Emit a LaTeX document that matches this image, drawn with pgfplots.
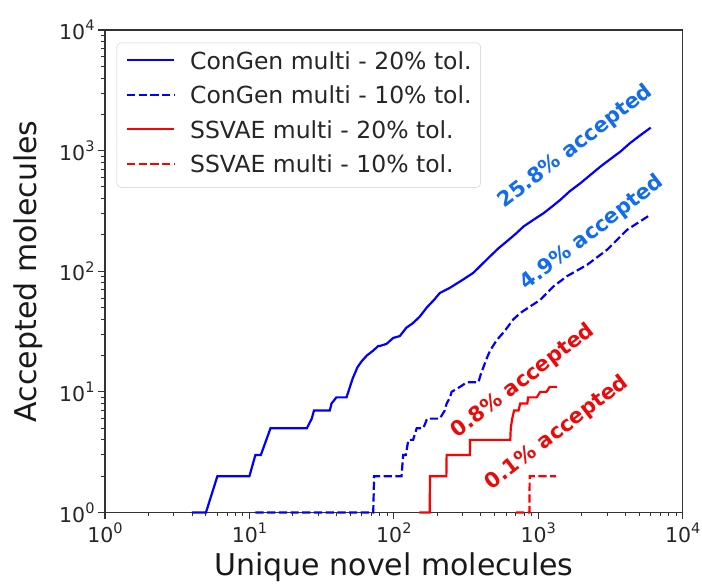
\documentclass[border=0pt]{standalone}
\usepackage{fontspec}
\setmainfont{DejaVu Sans}
\usepackage{pgfplots}
\pgfplotsset{compat=1.18}

\definecolor{annblue}{RGB}{18,108,235}
\definecolor{annred}{RGB}{235,10,10}
\newcommand\tp[1]{10\raisebox{0.42em}{\fontsize{14.5}{14.5}\selectfont#1}}

\begin{document}
\begin{tikzpicture}
\begin{axis}[
  scale only axis, width=577.7pt, height=482.5pt,
  xmode=log, ymode=log,
  xmin=1, xmax=10000, ymin=1, ymax=10000,
  xtick={1,10,100,1000,10000},
  xticklabels={\tp{0},\tp{1},\tp{2},\tp{3},\tp{4}},
  ytick={1,10,100,1000,10000},
  yticklabels={\tp{0},\tp{1},\tp{2},\tp{3},\tp{4}},
  tick pos=left, tick align=outside,
  major tick length=7pt, minor tick length=4pt,
  every tick/.style={black!80, line width=1.1pt},
  minor tick style={line width=0.9pt},
  axis line style={black!80, line width=1.2pt},
  tick label style={font=\fontsize{20.5}{24}\selectfont, text=black!85},
  xlabel={Unique novel molecules},
  ylabel={Accepted molecules},
  label style={font=\fontsize{30}{36}\selectfont, text=black!90},
  xlabel style={at={(axis description cs:0.5,-0.1316)}, anchor=base},
  ylabel style={at={(axis description cs:-0.1177,0.5)}, anchor=base},
  legend cell align=left,
  legend image code/.code={\draw[#1] (0pt,0.3em) -- (47pt,0.3em);},
  legend style={at={(axis description cs:0.0203,0.9737)}, anchor=north west,
    draw=black!20, rounded corners=4pt, fill=white,
    font=\fontsize{23.5}{28}\selectfont, text=black!85,
    inner xsep=9pt, inner ysep=9.5pt,
    nodes={inner sep=0pt, text height=17pt, text depth=5pt},
    row sep=12.5pt, column sep=15pt},
  clip=false,
]
% ConGen multi - 20% tol.
\addplot[blue, line width=2.2pt] coordinates {
 (4,1) (5,1) (6,2) (10,2) (11,3) (12,3) (14,5) (25,5) (27,6) (28,7) (36,7)
 (37,8) (40,9) (47,9) (52,13) (56,16) (60,18) (65,20) (72,22) (78,24) (80,24)
 (89,25) (99,28) (110,29) (122,34) (135,37) (151,42) (169,50) (190,58)
 (208,66) (245,73) (300,85) (355,97) (410,115) (464,133) (530,155) (606,177)
 (700,205) (791,235) (930,268) (1089,303) (1250,345) (1422,391) (1650,460)
 (1959,537) (2300,630) (2696,738) (3150,850) (3707,982) (4300,1150)
 (5000,1320) (6000,1550)};
\addlegendentry{ConGen multi - 20\% tol.}
% ConGen multi - 10% tol.
\addplot[blue, line width=2.2pt, dash pattern=on 8.2pt off 3.5pt] coordinates {
 (11,1) (72,1) (73,2) (113,2) (116,3) (121,3) (126,4) (136,4) (144,5) (160,5)
 (170,6) (208,6) (225,7) (232,8) (245,9) (251,10) (287,11) (320,12) (385,12)
 (400,14) (417,16) (440,19) (464,22) (517,27) (574,31) (673,40) (750,45)
 (834,49) (1033,58) (1276,75) (1581,91) (2178,113) (3000,151) (4131,221)
 (6000,295)};
\addlegendentry{ConGen multi - 10\% tol.}
% SSVAE multi - 20% tol.
\addplot[red, line width=2.2pt] coordinates {
 (150,1) (177,1) (178,2) (231,2) (232,3) (336,3) (337,4) (640,4) (645,5)
 (660,6) (680,7) (730,7) (750,8) (840,8) (850,9) (975,9) (1033,10) (1140,10)
 (1200,11) (1350,11)};
\addlegendentry{SSVAE multi - 20\% tol.}
% SSVAE multi - 10% tol.
\addplot[red, line width=2.2pt, dash pattern=on 8.2pt off 3.5pt] coordinates {
 (700,1) (868,1) (872,2) (1330,2)};
\addlegendentry{SSVAE multi - 10\% tol.}

\begin{scope}[every node/.style={rotate=37.5, font=\bfseries\fontsize{21}{25}\selectfont}]
\node[text=annblue] at (axis cs:1812,1083) {25.8\% accepted};
\node[text=annblue] at (axis cs:2360,208) {4.9\% accepted};
\node[text=annred] at (axis cs:785,12.3) {0.8\% accepted};
\node[text=annred] at (axis cs:1349,4.56) {0.1\% accepted};
\end{scope}

\coordinate (bl) at (rel axis cs:0,0);
\coordinate (tr) at (rel axis cs:1,1);
\end{axis}
\pgfresetboundingbox
\path (bl) ++(-105pt,-73.5pt) rectangle ([shift={(19.3pt,30pt)}]tr);
\end{tikzpicture}
\end{document}
